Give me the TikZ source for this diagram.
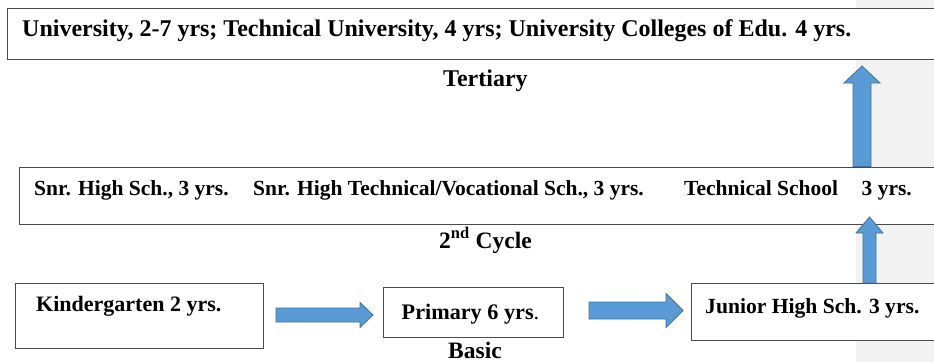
\documentclass[tikz,border=0pt]{standalone}
\usepackage{fontspec}
\setmainfont{Liberation Serif}
\usetikzlibrary{calc}
\definecolor{panelgray}{HTML}{F2F2F2}
\definecolor{arrowblue}{HTML}{5B9BD5}
\definecolor{arrowedge}{HTML}{41719C}
\definecolor{boxline}{HTML}{4A4A4A}
\newcommand{\blockRight}[5]{%
  \draw[blockarrow] ($(#1)+(0,-#3)$) -- ($(#2)+(-#5,-#3)$) -- ($(#2)+(-#5,-#4)$) -- (#2)
    -- ($(#2)+(-#5,#4)$) -- ($(#2)+(-#5,#3)$) -- ($(#1)+(0,#3)$) -- cycle;}
\newcommand{\blockUp}[5]{%
  \draw[blockarrow] ($(#1)+(-#3,0)$) -- ($(#2)+(-#3,#5)$) -- ($(#2)+(-#4,#5)$) -- (#2)
    -- ($(#2)+(#4,#5)$) -- ($(#2)+(#3,#5)$) -- ($(#1)+(#3,0)$) -- cycle;}
\begin{document}
\begin{tikzpicture}[x=1pt,y=-1pt,
  box/.style={draw=boxline, line width=1.1pt, fill=white, inner sep=0pt, anchor=north west},
  txt/.style={inner sep=0pt, anchor=base west, font=\bfseries\fontsize{#1}{#1}\selectfont},
  txt/.default=23.5,
  blockarrow/.style={fill=arrowblue, draw=arrowedge, line width=0.8pt, line join=miter}]
\useasboundingbox (0,0) rectangle (934,362);
\fill[panelgray] (856,0) rectangle (934,362);
% boxes
\node[box, minimum width=943pt, minimum height=51pt] (tert) at (7,7.5) {};
\node[box, minimum width=931pt, minimum height=57pt] (sec) at (19,166.5) {};
\node[box, minimum width=248pt, minimum height=65pt] (kg) at (15,282.5) {};
\node[box, minimum width=180pt, minimum height=50pt] (pri) at (383,287) {};
\node[box, minimum width=259pt, minimum height=57pt] (jhs) at (691,283) {};
% texts
\node[txt=24] (t1) at (22,36) {University, 2-7 yrs; Technical University, 4 yrs; University Colleges of Edu. 4 yrs.};
\node[txt=24] (t2) at (443,86) {Tertiary};
\node[txt=21.5] (t3a) at (34,195) {Snr. High Sch., 3 yrs.};
\node[txt=21.5] (t3b) at (253,195) {Snr. High Technical/Vocational Sch., 3 yrs.};
\node[txt=21.5] (t3c) at (684,195) {Technical School};
\node[txt=21.5, anchor=base east] (t3d) at (912,195) {3 yrs.};
\node[txt] (t4) at (439,248) {2\textsuperscript{nd} Cycle};
\node[txt=22] (t5) at (36,311) {Kindergarten 2 yrs.};
\node[txt=22.2] (t6) at (401.5,319) {Primary 6 yrs{\mdseries.}};
\node[txt=21.6] (t7) at (705,313) {Junior High Sch. 3 yrs.};
\node[txt] (t8) at (448,358) {Basic};
% arrows
\coordinate (a1s) at (276,315);
\coordinate (a1e) at (373,315);
\coordinate (a2s) at (589,310.5);
\coordinate (a2e) at (683,310.5);
\coordinate (u1s) at (862,166.5);
\coordinate (u1e) at (862,66);
\coordinate (u2s) at (869.5,283);
\coordinate (u2e) at (869.5,217);
\blockRight{a1s}{a1e}{7}{12.5}{13}
\blockRight{a2s}{a2e}{8.5}{17}{17}
\blockUp{u1s}{u1e}{9}{18}{17}
\blockUp{u2s}{u2e}{6.5}{13.5}{16}
\end{tikzpicture}
\end{document}
